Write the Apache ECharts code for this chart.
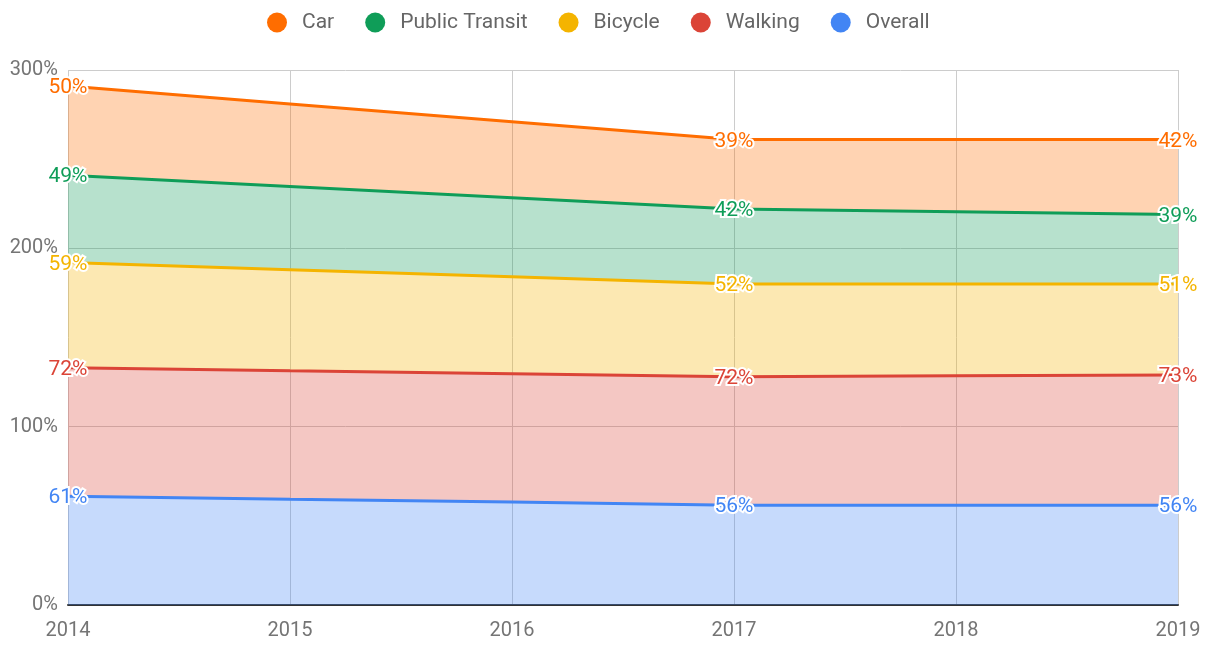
<!DOCTYPE html>
<html>
<head>
<meta charset="utf-8">
<script src="https://cdn.jsdelivr.net/npm/echarts@6/dist/echarts.min.js"></script>
<style>
  html, body { margin: 0; padding: 0; background: #fff; }
  #chart { width: 1212px; height: 646px; }
</style>
</head>
<body>
<div id="chart"></div>
<script>
var years = ['2014', '2015', '2016', '2017', '2018', '2019'];
var labelYears = ['2014', '2017', '2019'];

// values (stacked, bottom to top)
var overall = [61, 59.3, 57.7, 56, 56, 56];
var walking = [72, 72, 72, 72, 72.5, 73];
var bicycle = [59, 56.7, 54.3, 52, 51.5, 51];
var transit = [49, 46.7, 44.3, 42, 40.5, 39];
var car = [50, 46.3, 42.7, 39, 40.5, 42];

var yTicks = [0, 100, 200, 300];

var myChart = echarts.init(document.getElementById('chart'));

function makeSeries(name, data, color) {
  return {
    name: name,
    type: 'line',
    stack: 'total',
    data: data,
    symbol: 'circle',
    symbolSize: 0.1,
    showSymbol: true,
    lineStyle: { color: color, width: 3 },
    itemStyle: { color: color },
    areaStyle: { color: color, opacity: 0.3 },
    label: {
      show: true,
      position: [0, 2],
      align: 'center',
      verticalAlign: 'middle',
      color: color,
      fontSize: 21,
      fontFamily: 'Roboto',
      textBorderColor: '#fff',
      textBorderWidth: 4,
      formatter: function (p) {
        if (labelYears.indexOf(p.name) < 0) return '';
        return Math.round(p.value) + '%';
      }
    },
    emphasis: { disabled: true },
    z: 3
  };
}

var option = {
  animation: false,
  backgroundColor: '#fff',
  textStyle: { fontFamily: 'Roboto' },
  legend: {
    top: 7,
    left: 262,
    icon: 'circle',
    itemWidth: 20,
    itemHeight: 20,
    itemGap: 31,
    textStyle: { color: '#666', fontSize: 21, fontFamily: 'Roboto', padding: [0, 0, 0, 10] },
    data: ['Car', 'Public Transit', 'Bicycle', 'Walking', 'Overall']
  },
  grid: { left: 68, right: 34, top: 70, bottom: 41 },
  xAxis: {
    type: 'category',
    boundaryGap: false,
    data: years,
    axisLine: { show: true, lineStyle: { color: '#333', width: 2 } },
    axisTick: { show: false },
    axisLabel: { color: '#757575', fontSize: 20, margin: 16 },
    splitLine: { show: true, lineStyle: { color: '#ccc', width: 1 } }
  },
  yAxis: {
    type: 'value',
    min: yTicks[0],
    max: yTicks[yTicks.length - 1],
    interval: 100,
    axisLine: { show: false },
    axisTick: { show: false },
    axisLabel: { color: '#757575', fontSize: 20, margin: 10, formatter: '{value}%' },
    splitLine: { show: true, lineStyle: { color: '#ccc', width: 1 } }
  },
  series: [
    makeSeries('Overall', overall, '#4285f4'),
    makeSeries('Walking', walking, '#db4437'),
    makeSeries('Bicycle', bicycle, '#f4b400'),
    makeSeries('Public Transit', transit, '#0f9d58'),
    makeSeries('Car', car, '#ff6d00')
  ]
};

myChart.setOption(option);
</script>
</body>
</html>
